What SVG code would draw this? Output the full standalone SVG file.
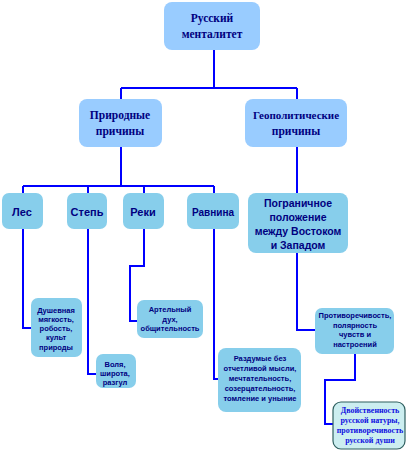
<svg xmlns="http://www.w3.org/2000/svg" width="408" height="462" viewBox="0 0 408 462">
<style>
.top{fill:#99CCFF;}
.sub{fill:#87CEEB;}
.fin{fill:#CCEEF0;stroke:#2F5F5F;stroke-width:1.2;}
.ts{font-family:"Liberation Serif",serif;font-weight:bold;fill:#000080;text-anchor:middle;}
.tn{font-family:"Liberation Sans",Arial,sans-serif;font-weight:bold;fill:#000080;text-anchor:middle;}
.tb{font-family:"Liberation Serif",serif;font-weight:bold;fill:#1010E0;text-anchor:middle;font-size:8px;}
.c{fill:none;stroke:#0000FF;stroke-width:2;}
</style>
<rect width="408" height="462" fill="#FFFFFF"/>
<g id="connectors">
<path class="c" d="M214 50V88M121 88H297M121 88V99M297 88V99"/>
<path class="c" d="M121 147V186M23 186H214M23 186V193M88 186V193M144 186V193M214 186V193"/>
<path class="c" d="M297 147V193"/>
<path class="c" d="M23 229V328H32"/>
<path class="c" d="M88 229V374H97"/>
<path class="c" d="M144 229V266H130V321H137"/>
<path class="c" d="M214 229V379H218"/>
<path class="c" d="M297 253V330H315"/>
<path class="c" d="M355 353V380H325V424H333"/>
</g>
<g id="n_top"><rect class="top" x="164" y="2" width="96" height="48" rx="8"/>
<text class="ts" font-size="11.5" x="212" y="22">Русский</text><text class="ts" font-size="11.5" x="212" y="38">менталитет</text></g>
<g id="n_prir"><rect class="top" x="79" y="99" width="83" height="48" rx="8"/>
<text class="ts" font-size="11.5" x="120" y="119">Природные</text><text class="ts" font-size="11.5" x="120" y="135">причины</text></g>
<g id="n_geo"><rect class="top" x="245" y="99" width="102" height="48" rx="8"/>
<text class="ts" font-size="11" x="296" y="119">Геополитические</text><text class="ts" font-size="11.5" x="296" y="135">причины</text></g>
<g id="n_les"><rect class="sub" x="2" y="193" width="41" height="36" rx="7"/><text class="tn" font-size="11" x="22" y="216">Лес</text></g>
<g id="n_step"><rect class="sub" x="67" y="193" width="40" height="36" rx="7"/><text class="tn" font-size="11" x="87" y="216">Степь</text></g>
<g id="n_reki"><rect class="sub" x="123" y="193" width="41" height="36" rx="7"/><text class="tn" font-size="11" x="143" y="216">Реки</text></g>
<g id="n_rav"><rect class="sub" x="187" y="193" width="52" height="36" rx="7"/><text class="tn" font-size="10" x="213" y="216">Равнина</text></g>
<g id="n_pogr"><rect class="sub" x="248" y="193" width="100" height="60" rx="8"/>
<text class="tn" font-size="10.5" x="298" y="207">Пограничное</text><text class="tn" font-size="10.5" x="298" y="221">положение</text><text class="tn" font-size="10.5" x="298" y="235">между Востоком</text><text class="tn" font-size="10.5" x="298" y="249">и Западом</text></g>
<g id="n_dush"><rect class="sub" x="31" y="298" width="51" height="59" rx="7"/>
<text class="tn" font-size="7.5" x="56" y="313">Душевная</text><text class="tn" font-size="7.5" x="56" y="322">мягкость,</text><text class="tn" font-size="7.5" x="56" y="331">робость,</text><text class="tn" font-size="7.5" x="56" y="340">культ</text><text class="tn" font-size="7.5" x="56" y="350">природы</text></g>
<g id="n_vol"><rect class="sub" x="96" y="354" width="40" height="34" rx="7"/>
<text class="tn" font-size="7.5" x="115" y="367">Воля,</text><text class="tn" font-size="7.5" x="115" y="376">широта,</text><text class="tn" font-size="7.5" x="115" y="385">разгул</text></g>
<g id="n_art"><rect class="sub" x="137" y="300" width="66" height="38" rx="7"/>
<text class="tn" font-size="7.5" x="170" y="312">Артельный</text><text class="tn" font-size="7.5" x="170" y="322">дух,</text><text class="tn" font-size="7.5" x="170" y="331">общительность</text></g>
<g id="n_razd"><rect class="sub" x="218" y="348" width="83" height="64" rx="8"/>
<text class="tn" font-size="7.5" x="260" y="361">Раздумые без</text><text class="tn" font-size="7.5" x="260" y="371">отчетливой мысли,</text><text class="tn" font-size="7.5" x="260" y="381">мечтательность,</text><text class="tn" font-size="7.5" x="260" y="391">созерцательность,</text><text class="tn" font-size="7.5" x="260" y="401">томление и уныние</text></g>
<g id="n_prot"><rect class="sub" x="315" y="308" width="79" height="46" rx="7"/>
<text class="tn" font-size="7.5" x="355" y="318">Противоречивость,</text><text class="tn" font-size="7.5" x="355" y="328">полярность</text><text class="tn" font-size="7.5" x="355" y="337">чувств и</text><text class="tn" font-size="7.5" x="355" y="347">настроений</text></g>
<g id="n_dvoi"><rect class="fin" x="333" y="402" width="72" height="47" rx="8"/>
<text class="tb" x="370" y="413">Двойственность</text><text class="tb" x="370" y="423">русской натуры,</text><text class="tb" x="370" y="433">противоречивость</text><text class="tb" x="370" y="443">русской души</text></g>
</svg>
